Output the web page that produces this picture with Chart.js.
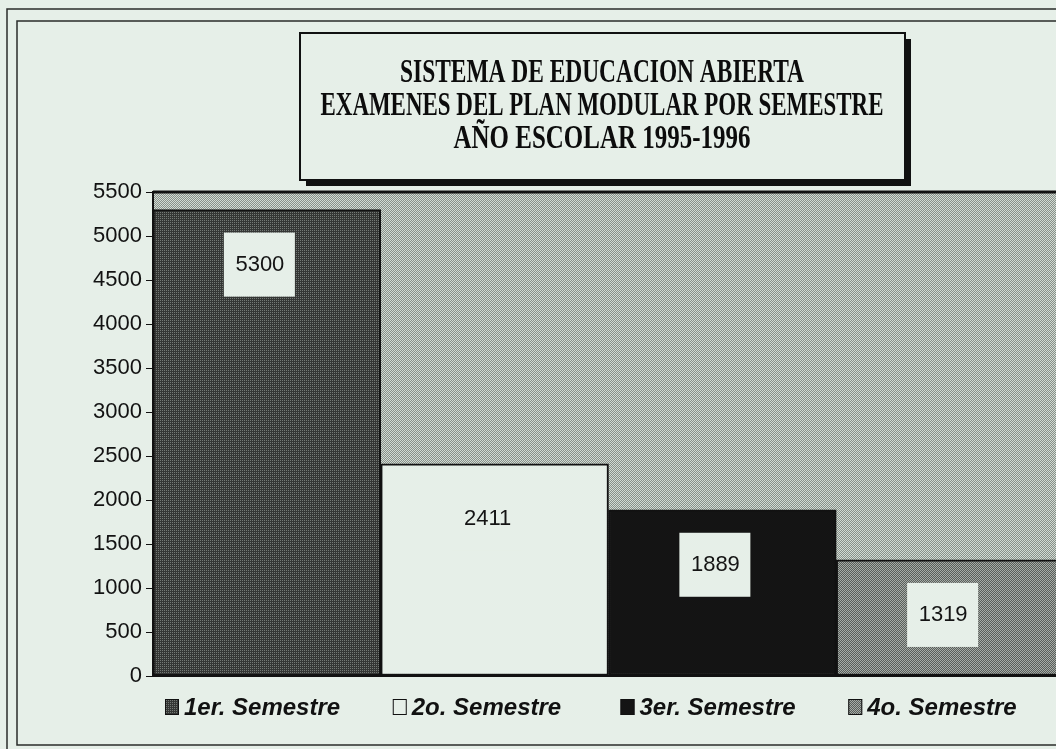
<!DOCTYPE html>
<html>
<head>
<meta charset="utf-8">
<script src="https://cdn.jsdelivr.net/npm/chart.js@4.4.1/dist/chart.umd.min.js"></script>
<style>
  html, body { margin: 0; padding: 0; background: #e6efe8; overflow: hidden; }
  #wrap { width: 1064px; height: 749px; }
</style>
</head>
<body>
<div id="wrap"><canvas id="examenes"></canvas></div>
<script>
var semestres = ["1er. Semestre", "2o. Semestre", "3er. Semestre", "4o. Semestre"];
var examenes = [5300, 2411, 1889, 1319];
var yTicks = [0, 500, 1000, 1500, 2000, 2500, 3000, 3500, 4000, 4500, 5000, 5500];
var titulo = [
  "SISTEMA DE EDUCACION ABIERTA",
  "EXAMENES DEL PLAN MODULAR POR SEMESTRE",
  "AÑO ESCOLAR 1995-1996"
];

var paper = "#e6efe8";

// little dithered tiles, to look like the printed screens
function dither(a, b, solo) {
  var c = document.createElement("canvas");
  c.width = 2; c.height = 2;
  var g = c.getContext("2d");
  g.fillStyle = a; g.fillRect(0, 0, 2, 2);
  g.fillStyle = b;
  g.fillRect(0, 0, 1, 1);
  if (!solo) g.fillRect(1, 1, 1, 1);
  return g.createPattern(c, "repeat");
}

var fondoPlot = dither("#889089", "#d2dbd4");
var colores = [
  dither("#343634", "#747975", true),
  paper,
  "#141414",
  dither("#595e5a", "#a6aca7")
];

var marco = {
  id: "marco",
  beforeDraw: function (chart) {
    var c = chart.ctx, a = chart.chartArea;
    c.save();
    c.fillStyle = paper;
    c.fillRect(0, 0, chart.width, chart.height);
    // double page frame
    c.strokeStyle = "#2a2c2a";
    c.lineWidth = 1.5;
    c.strokeRect(7, 9, 1200, 1000);
    c.strokeRect(17, 21, 1200, 724);
    // title box with shadow
    c.fillStyle = "#111";
    c.fillRect(306, 39, 605, 147);
    c.fillStyle = paper;
    c.fillRect(300, 33, 605, 147);
    c.lineWidth = 2;
    c.strokeStyle = "#111";
    c.strokeRect(300, 33, 605, 147);
    c.fillStyle = "#0c0c0c";
    c.font = "bold 33px 'Liberation Serif'";
    c.textAlign = "center";
    c.textBaseline = "middle";
    var anchos = [404, 563, 297];
    titulo.forEach(function (t, i) {
      c.fillText(t, 602, 73 + i * 33, anchos[i]);
    });
    // plot background
    c.fillStyle = fondoPlot;
    c.fillRect(a.left, a.top, a.right - a.left, a.bottom - a.top);
    c.restore();
  },
  afterDatasetsDraw: function (chart) {
    var c = chart.ctx, a = chart.chartArea;
    var meta = chart.getDatasetMeta(0);
    c.save();
    c.strokeStyle = "#111";
    c.lineWidth = 3;
    c.beginPath();
    c.moveTo(a.left, a.top);
    c.lineTo(a.right, a.top);
    c.stroke();
    c.lineWidth = 2;
    c.beginPath();
    c.moveTo(a.left, a.bottom);
    c.lineTo(a.right, a.bottom);
    c.stroke();
    // value labels in their little boxes
    c.font = "22px 'Liberation Sans'";
    c.textAlign = "center";
    c.textBaseline = "middle";
    meta.data.forEach(function (bar, i) {
      var cx = bar.x - 7, cy = bar.y + 55;
      c.fillStyle = paper;
      c.fillRect(cx - 36, cy - 32, 71, 64);
      c.fillStyle = "#141414";
      c.fillText(String(examenes[i]), cx, cy);
    });
    // legend under each category
    var xs = chart.scales.x;
    var paso = xs.getPixelForValue(1) - xs.getPixelForValue(0);
    c.font = "italic bold 24px 'Liberation Sans'";
    c.textAlign = "left";
    semestres.forEach(function (s, i) {
      var bx = xs.getPixelForValue(i) - paso / 2 + 12;
      c.fillStyle = colores[i];
      c.fillRect(bx, 699, 14, 16);
      c.lineWidth = 1;
      c.strokeStyle = "#111";
      c.strokeRect(bx + 0.5, 699.5, 13, 15);
      c.fillStyle = "#111";
      c.fillText(s, bx + 19, 708, 164);
    });
    c.restore();
  }
};

new Chart(document.getElementById("examenes"), {
  type: "bar",
  data: {
    labels: semestres,
    datasets: [{
      data: examenes,
      backgroundColor: colores,
      borderColor: "#111",
      borderWidth: 2,
      borderSkipped: false,
      barPercentage: 1,
      categoryPercentage: 1
    }]
  },
  options: {
    responsive: true,
    maintainAspectRatio: false,
    animation: false,
    layout: { padding: { left: 0, right: 0, top: 192, bottom: 73 } },
    plugins: {
      legend: { display: false },
      tooltip: { enabled: false }
    },
    scales: {
      x: { display: false },
      y: {
        min: 0,
        max: 5500,
        afterFit: function (scale) { scale.width = 153; },
        afterBuildTicks: function (scale) {
          scale.ticks = yTicks.map(function (v) { return { value: v }; });
        },
        border: { display: true, color: "#111", width: 2 },
        grid: { drawOnChartArea: false, drawTicks: true, tickLength: 7, color: "#111" },
        ticks: {
          padding: 4,
          color: "#121212",
          font: { family: "'Liberation Sans'", size: 22 },
          callback: function (v) { return String(v); }
        }
      }
    }
  },
  plugins: [marco]
});
</script>
</body>
</html>
